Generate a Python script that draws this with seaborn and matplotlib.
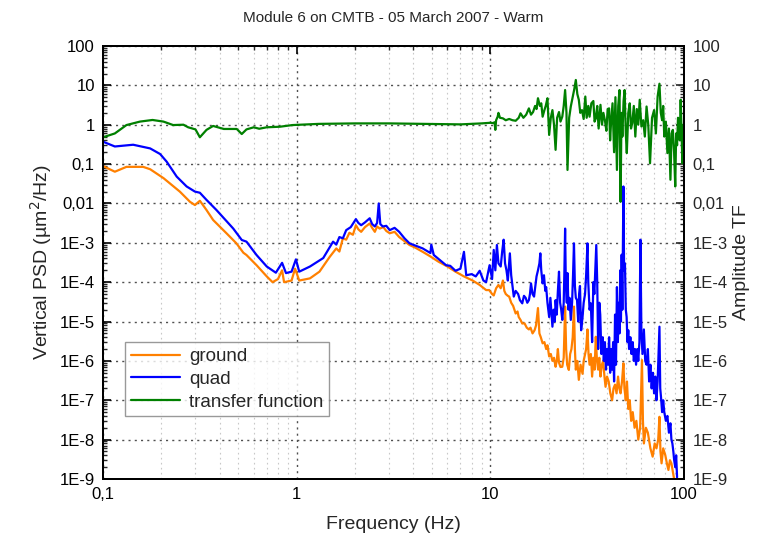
import numpy as np
import matplotlib
matplotlib.use("Agg")
import matplotlib.pyplot as plt
import seaborn as sns
from matplotlib.ticker import LogLocator, NullFormatter

# ground PSD (um^2/Hz)
ground_freq = [0.1, 0.115, 0.132, 0.161, 0.175, 0.205, 0.249, 0.281, 0.298, 0.316, 0.342, 0.37,
               0.434, 0.488, 0.53, 0.55, 0.62, 0.70, 0.75, 0.80, 0.84, 0.86, 0.94, 0.98, 1.03,
               1.17, 1.31, 1.48, 1.60, 1.66, 1.73, 1.80, 1.87, 1.95, 2.02, 2.08, 2.15, 2.25,
               2.38, 2.45, 2.53, 2.60, 2.68, 2.80, 2.90, 3.02, 3.20, 3.38, 3.60, 3.82, 4.10,
               4.47, 4.90, 5.40, 6.00, 6.60, 7.30, 8.10, 8.80, 9.50, 9.85,
               10.2, 10.4, 10.7, 11.0, 11.3, 11.6, 11.8, 12.0, 12.3, 12.5, 12.8, 13.1, 13.5,
               13.8, 14.0, 14.3, 14.6, 15.0, 15.4, 15.8, 16.1, 16.5, 16.9, 17.2, 17.6, 17.9,
               18.2, 18.6, 19.0, 19.4, 19.7, 20.1, 20.5, 20.9, 21.3, 21.7, 22.0, 22.3, 22.6,
               23.0, 23.5, 23.9, 24.3, 24.6, 24.9, 25.4, 25.8, 26.2, 26.6, 27.0, 27.3, 27.6,
               28.1, 28.6, 29.2, 29.9, 30.3, 30.8, 31.2, 31.7, 32.1, 32.5, 33.0, 33.5, 34.0,
               34.5, 35.0, 35.5, 36.0, 36.5, 37.0, 37.6, 38.2, 38.8, 39.3, 40.0, 40.8, 41.6,
               42.5, 43.2, 44.0, 44.8, 45.6, 46.3, 47.0, 47.8, 48.6, 49.2, 50.0, 50.7, 51.5,
               52.4, 53.3, 54.3, 55.5, 56.7, 58.0, 59.3, 60.6, 61.3, 62.0, 63.5, 65.0, 67.0,
               68.8, 70.5, 72.0, 73.5, 74.6, 75.5, 76.5, 78.0, 80.0, 81.5, 83.0, 84.5, 86.0,
               87.5, 88.8, 91.0]
ground_psd = [0.089, 0.064, 0.085, 0.085, 0.074, 0.044, 0.020, 0.011, 0.0091, 0.0117, 0.0068,
              0.0038, 1.74e-3, 9.7e-4, 5.6e-4, 4.9e-4, 2.7e-4, 1.4e-4, 1.0e-4, 1.2e-4, 2.0e-4,
              1.0e-4, 1.1e-4, 2.2e-4, 1.1e-4, 1.25e-4, 1.85e-4, 4.4e-4, 7.2e-4, 6.0e-4, 1.3e-3,
              1.2e-3, 1.8e-3, 1.6e-3, 2.8e-3, 2.2e-3, 1.9e-3, 2.5e-3, 3.1e-3, 2.4e-3, 1.9e-3,
              2.6e-3, 2.3e-3, 2.5e-3, 2.0e-3, 1.75e-3, 1.9e-3, 1.4e-3, 1.1e-3, 8.8e-4, 7.5e-4,
              5.9e-4, 4.5e-4, 3.3e-4, 2.5e-4, 1.85e-4, 1.4e-4, 1.1e-4, 8.5e-5, 6.3e-5, 6.3e-5,
              5.0e-5, 4.6e-5, 7.0e-5, 8.5e-5, 7.0e-5, 1.1e-4, 6.0e-5, 5.0e-5, 4.5e-5, 4.3e-5,
              3.0e-5, 2.5e-5, 1.6e-5, 1.8e-5, 1.3e-5, 1.1e-5, 8.9e-6, 9.0e-6, 7.0e-6, 6.3e-6,
              7.0e-6, 5.0e-6, 6.0e-6, 8.0e-6, 2.2e-5, 5.0e-6, 4.0e-6, 2.8e-6, 3.0e-6, 2.0e-6,
              2.5e-6, 1.3e-6, 1.5e-6, 1.0e-6, 1.2e-6, 7.1e-7, 1.0e-6, 2.0e-6, 9.0e-7, 7.0e-7,
              7.1e-7, 1.2e-6, 2.4e-5, 2.0e-6, 8.0e-7, 5.9e-7, 1.5e-6, 2.0e-6, 4.0e-6, 2.4e-5,
              2.0e-6, 6.0e-7, 1.0e-6, 3.3e-7, 8.0e-7, 4.7e-7, 1.0e-6, 1.5e-6, 2.0e-6, 6.3e-6,
              1.5e-6, 8.0e-7, 1.5e-6, 4.0e-7, 1.2e-6, 6.0e-7, 4.1e-6, 1.0e-6, 6.0e-7, 1.2e-6,
              4.0e-7, 8.0e-7, 1.0e-6, 4.0e-7, 2.2e-7, 4.0e-7, 3.0e-7, 1.5e-7, 1.0e-7, 2.0e-7,
              2.5e-7, 1.5e-7, 4.0e-7, 2.0e-7, 1.5e-7, 3.0e-7, 8.7e-7, 2.0e-7, 1.0e-7, 3.0e-7,
              6.0e-8, 1.0e-7, 3.0e-8, 5.0e-8, 2.0e-8, 3.0e-8, 1.0e-8, 2.0e-8, 1.05e-6, 3.0e-8,
              8.0e-9, 2.0e-8, 1.5e-8, 6.0e-9, 3.7e-9, 8.0e-9, 6.0e-9, 1.0e-8, 3.8e-8, 5.0e-9,
              2.5e-9, 6.0e-9, 4.0e-9, 2.5e-9, 1.7e-9, 3.0e-9, 2.5e-9, 1.5e-9, 1.0e-9, 8.0e-10]

# quad PSD (um^2/Hz)
quad_freq = [0.1, 0.115, 0.143, 0.175, 0.197, 0.213, 0.24, 0.27, 0.298, 0.316, 0.342, 0.385,
             0.47, 0.52, 0.55, 0.62, 0.70, 0.78, 0.84, 0.88, 0.94, 0.99, 1.03, 1.17, 1.37,
             1.54, 1.60, 1.66, 1.73, 1.80, 1.90, 2.02, 2.08, 2.15, 2.25, 2.38, 2.45, 2.53,
             2.60, 2.65, 2.70, 2.78, 2.90, 3.02, 3.20, 3.38, 3.60, 3.82, 4.10, 4.47, 4.90,
             4.95, 5.10, 5.50, 5.90, 6.20, 6.60, 7.00, 7.30, 7.50, 8.00, 8.40, 8.80, 9.20,
             9.50, 9.90,
             10.2, 10.4, 10.6, 10.8, 11.0, 11.3, 11.5, 11.7, 11.9, 12.1, 12.3, 12.6, 12.8,
             13.0, 13.2, 13.5, 13.9, 14.2, 14.6, 14.9, 15.2, 15.5, 15.8, 16.0, 16.2, 16.5,
             16.8, 17.1, 17.3, 17.6, 17.9, 18.1, 18.3, 18.6, 18.9, 19.2, 19.4, 19.7, 20.1,
             20.4, 20.7, 20.9, 21.2, 21.5, 21.7, 22.0, 22.3, 22.6, 22.9, 23.2, 23.5, 23.9,
             24.1, 24.3, 24.5, 24.8, 25.0, 25.3, 25.6, 26.0, 26.4, 26.7, 27.0, 27.3, 27.6,
             28.0, 28.4, 28.7, 29.0, 29.4, 29.9, 30.3, 30.8, 31.2, 31.7, 32.0, 32.5, 33.0,
             33.5, 34.0, 34.4, 34.8, 35.2, 35.6, 36.0, 36.5, 36.9, 37.4, 38.0, 38.5, 39.0,
             39.5, 40.0, 40.5, 41.0, 41.5, 42.0, 42.5, 43.0, 43.5, 44.0, 44.5, 45.0, 45.5,
             46.0, 46.4, 46.8, 47.2, 47.6, 48.0, 48.6, 49.0, 49.5, 50.0, 50.5, 51.0, 51.5,
             52.0, 52.8, 53.5, 54.3, 55.0, 55.8, 56.5, 57.3, 58.0, 58.8, 59.5, 60.2, 61.0,
             62.0, 63.0, 64.0, 65.0, 66.0, 67.0, 68.0, 69.0, 70.0, 71.0, 72.0, 73.0, 74.0,
             74.6, 75.3, 76.0, 77.0, 78.0, 79.0, 80.5, 82.0, 83.5, 85.0, 86.0, 87.0, 88.0,
             88.8, 90.0, 91.0, 92.0]
quad_psd = [0.37, 0.28, 0.31, 0.25, 0.18, 0.115, 0.048, 0.027, 0.020, 0.0187, 0.0123, 0.0068,
            2.3e-3, 1.18e-3, 1.07e-3, 4.9e-4, 2.5e-4, 1.74e-4, 3.1e-4, 1.7e-4, 1.85e-4, 3.8e-4,
            1.85e-4, 2.5e-4, 4.1e-4, 1.07e-3, 9.0e-4, 1.4e-3, 1.3e-3, 2.1e-3, 2.5e-3, 4.0e-3,
            3.2e-3, 2.8e-3, 3.3e-3, 4.2e-3, 3.0e-3, 2.6e-3, 3.2e-3, 1.0e-2, 3.0e-3, 2.6e-3,
            2.7e-3, 2.1e-3, 2.4e-3, 1.9e-3, 1.3e-3, 9.7e-4, 8.5e-4, 7.2e-4, 5.5e-4, 9.0e-4,
            4.9e-4, 3.6e-4, 2.7e-4, 2.6e-4, 1.95e-4, 2.2e-4, 5.9e-4, 1.5e-4, 1.6e-4, 1.4e-4,
            1.95e-4, 1.1e-4, 1.0e-4, 2.7e-4,
            1.2e-4, 6.6e-4, 2.0e-4, 8.8e-4, 3.0e-4, 2.5e-4, 6.0e-4, 1.2e-3, 3.0e-4, 2.0e-4,
            1.1e-4, 5.4e-4, 1.5e-4, 8.0e-5, 4.3e-5, 6.0e-5, 5.0e-5, 3.5e-5, 2.9e-5, 4.5e-5,
            4.0e-5, 3.0e-5, 3.5e-5, 5.0e-5, 9.3e-5, 5.0e-5, 4.3e-5, 9.0e-5, 1.4e-4, 2.0e-4,
            3.0e-4, 5.4e-4, 2.0e-4, 9.3e-5, 1.5e-4, 6.0e-5, 7.5e-5, 3.0e-5, 1.3e-5, 4.0e-5,
            1.5e-5, 7.4e-6, 2.0e-5, 1.0e-5, 3.5e-5, 1.5e-5, 6.0e-5, 1.85e-4, 3.0e-5, 2.0e-5,
            1.1e-5, 3.0e-5, 2.0e-4, 2.3e-3, 1.0e-4, 3.0e-5, 1.7e-4, 2.0e-5, 4.0e-5, 1.1e-5,
            3.0e-5, 1.5e-4, 9.7e-4, 8.0e-5, 4.0e-5, 3.5e-5, 1.0e-5, 5.0e-5, 8.0e-5, 6.0e-6,
            1.3e-5, 3.0e-5, 5.0e-5, 1.5e-4, 9.7e-4, 1.0e-4, 2.0e-5, 2.9e-5, 3.0e-6, 1.0e-4,
            5.0e-5, 2.0e-4, 8.8e-4, 1.0e-4, 2.0e-6, 3.0e-5, 1.5e-5, 1.5e-6, 4.0e-6, 1.0e-6,
            3.0e-6, 6.0e-7, 2.0e-6, 8.0e-7, 4.0e-6, 5.0e-7, 2.0e-6, 6.0e-7, 3.0e-6, 3.0e-7,
            1.5e-5, 8.0e-7, 7.5e-5, 3.0e-6, 3.0e-5, 5.0e-6, 2.0e-4, 1.0e-5, 5.0e-4, 2.0e-5,
            2.7e-2, 2.0e-4, 3.0e-4, 2.0e-5, 1.3e-5, 3.0e-6, 6.0e-6, 2.0e-6, 4.0e-6, 1.5e-6,
            3.0e-6, 1.0e-6, 2.0e-6, 8.0e-7, 2.0e-6, 1.0e-6, 3.0e-6, 1.2e-3, 5.0e-6, 1.5e-6,
            6.3e-6, 1.0e-6, 8.0e-7, 2.0e-6, 3.0e-7, 8.0e-7, 2.0e-7, 5.0e-7, 1.5e-7, 4.0e-7,
            1.0e-7, 3.0e-7, 2.0e-6, 7.4e-6, 2.0e-7, 1.2e-7, 5.0e-8, 1.0e-7, 5.0e-8, 3.0e-8,
            4.0e-8, 1.5e-8, 2.6e-8, 1.0e-8, 8.0e-9, 5.0e-9, 3.1e-9, 2.0e-9, 4.0e-9, 1.1e-9]

# transfer function amplitude
tf_freq = [0.1, 0.115, 0.132, 0.155, 0.18, 0.205, 0.23, 0.26, 0.275, 0.30, 0.316, 0.342, 0.37,
           0.42, 0.49, 0.52, 0.55, 0.60, 0.64, 0.70, 0.82, 0.95, 1.3, 2.0, 3.0, 5.0, 7.0, 9.0,
           10.0, 10.3, 10.5, 10.6, 10.7, 10.9, 11.0, 11.2, 11.6, 12.0, 12.5, 13.0, 13.5, 14.0,
           14.3, 14.8, 15.3, 15.8, 16.2, 16.6, 17.0, 17.3, 17.6, 18.0, 18.3, 18.6, 19.0, 19.3,
           19.7, 20.1, 20.5, 20.9, 21.3, 21.7, 22.1, 22.6, 23.0, 23.5, 23.9, 24.3, 24.7, 25.0,
           25.5, 26.0, 26.6, 27.1, 27.6, 28.1, 28.6, 29.1, 29.7, 30.3, 30.9, 31.4, 32.0, 32.5,
           33.2, 34.0, 34.5, 35.0, 35.6, 36.2, 37.0, 37.7, 38.3, 39.0, 39.7, 40.3, 41.0, 41.5,
           41.9, 42.7, 43.5, 44.2, 45.0, 45.7, 46.4, 47.0, 47.5, 48.0, 48.7, 49.3, 50.0, 50.6,
           51.5, 52.4, 53.2, 54.0, 55.0, 56.0, 57.0, 58.0, 59.0, 60.2, 61.5, 62.7, 64.0, 65.3,
           66.7, 68.3, 70.0, 71.5, 73.0, 74.6, 75.8, 77.0, 78.0, 79.0, 80.5, 82.0, 83.5, 85.0,
           86.2, 87.5, 88.8, 90.0, 91.0, 92.0, 93.0, 94.0, 95.0, 96.0, 97.0, 98.0, 99.0, 100.0]
tf_amp = [0.48, 0.60, 0.98, 1.2, 1.32, 1.2, 0.98, 1.0, 0.86, 0.76, 0.48, 0.74, 0.93, 0.78, 0.78,
          0.58, 0.76, 0.86, 0.79, 0.86, 0.89, 0.98, 1.05, 1.08, 1.08, 1.04, 1.02, 1.08,
          1.12, 1.1, 1.15, 0.74, 1.3, 1.6, 2.0, 1.5, 1.45, 1.3, 1.4, 1.3, 1.26, 1.5,
          1.95, 1.5, 1.8, 2.6, 1.8, 2.1, 3.0, 2.5, 4.7, 3.0, 3.5, 1.6, 2.35, 3.0,
          4.7, 0.55, 1.5, 2.35, 1.0, 0.23, 1.5, 2.1, 1.2, 1.6, 3.0, 7.6, 2.0, 0.071,
          1.5, 2.9, 5.0, 8.0, 13.7, 6.0, 4.3, 2.0, 2.35, 1.4, 5.2, 1.5, 3.0, 1.6,
          3.5, 4.0, 1.2, 1.45, 3.0, 0.8, 3.2, 1.0, 2.0, 1.3, 0.7, 2.5, 2.6, 0.4,
          1.0, 3.5, 0.2, 5.0, 0.071, 3.0, 7.6, 0.011, 2.0, 0.5, 4.0, 7.6, 0.6, 0.19,
          2.0, 3.5, 0.8, 1.1, 3.0, 0.5, 2.5, 1.0, 4.3, 0.9, 1.3, 0.5, 2.9, 1.0,
          0.105, 1.5, 2.35, 0.6, 5.2, 11.0, 2.0, 1.3, 3.0, 0.5, 1.2, 0.19, 0.8, 0.04,
          0.6, 0.74, 0.2, 0.027, 0.6, 0.3, 1.5, 1.3, 0.4, 4.3, 0.6, 0.105, 1.0, 0.5]

y_ticks = [1e-9, 1e-8, 1e-7, 1e-6, 1e-5, 1e-4, 1e-3, 1e-2, 1e-1, 1, 10, 100]
y_labels = ["1E-9", "1E-8", "1E-7", "1E-6", "1E-5", "1E-4", "1E-3", "0,01", "0,1", "1", "10", "100"]
x_ticks = [0.1, 1, 10, 100]
x_labels = ["0,1", "1", "10", "100"]

sns.set_style("white")
plt.rcParams['font.family'] = ['Liberation Sans', 'DejaVu Sans']

fig = plt.figure(figsize=(7.58, 5.41), dpi=100)
ax = fig.add_axes([0.136, 0.1146, 0.7665, 0.8004])
ax2 = ax.twinx()

sns.lineplot(x=ground_freq, y=ground_psd, ax=ax, color="#ff8000", lw=1.6, label="ground",
             estimator=None, sort=False)
sns.lineplot(x=quad_freq, y=quad_psd, ax=ax, color="#0000ff", lw=1.6, label="quad",
             estimator=None, sort=False)
sns.lineplot(x=tf_freq, y=tf_amp, ax=ax2, color="#008000", lw=1.6, label="transfer function",
             estimator=None, sort=False)

for a in (ax, ax2):
    a.set_xscale("log")
    a.set_yscale("log")
    a.set_xlim(0.1, 100)
    a.set_ylim(1e-9, 100)
    a.set_yticks(y_ticks)
    a.set_yticklabels(y_labels)
    a.yaxis.set_minor_locator(LogLocator(base=10, subs=np.arange(2, 10), numticks=20))
    a.yaxis.set_minor_formatter(NullFormatter())
    for s in a.spines.values():
        s.set_linewidth(1.4)
        s.set_color("black")

ax.set_xticks(x_ticks)
ax.set_xticklabels(x_labels)
ax.xaxis.set_minor_locator(LogLocator(base=10, subs=np.arange(2, 10), numticks=20))
ax.xaxis.set_minor_formatter(NullFormatter())

ax.tick_params(axis="both", which="major", direction="in", length=6, width=1.2,
               labelsize=12, top=True, right=False, pad=6, colors="black")
ax.tick_params(axis="both", which="minor", direction="in", length=3, width=1,
               top=True, right=False)
ax2.tick_params(axis="y", which="major", direction="in", length=6, width=1.2,
                labelsize=12, pad=6)
ax2.tick_params(axis="y", which="minor", direction="in", length=3, width=1)

ax.grid(True, which="major", axis="both", ls=(0, (1.5, 3)), color="#505050", lw=1)
ax.grid(True, which="minor", axis="x", ls=(0, (1.5, 3)), color="#c8c8c8", lw=0.8)

ax.set_xlabel("Frequency (Hz)", fontsize=14, labelpad=10)
ax.set_ylabel("Vertical PSD (µm$^2$/Hz)", fontsize=14, labelpad=4)
ax2.set_ylabel("Amplitude TF", fontsize=14, labelpad=4)
fig.text(0.519, 0.967, "Module 6 on CMTB - 05 March 2007 - Warm", ha="center", va="center",
         fontsize=11)

h1, l1 = ax.get_legend_handles_labels()
h2, l2 = ax2.get_legend_handles_labels()
if ax2.get_legend() is not None:
    ax2.get_legend().remove()
leg = ax.legend(h1 + h2, l1 + l2, loc="lower left", bbox_to_anchor=(0.038, 0.145),
                borderaxespad=0, fontsize=13.5, frameon=True, fancybox=False,
                edgecolor="#808080", handlelength=2.6, handletextpad=0.5,
                labelspacing=0.3, borderpad=0.3)
leg.get_frame().set_linewidth(1)

fig.savefig("out.png", dpi=100)
